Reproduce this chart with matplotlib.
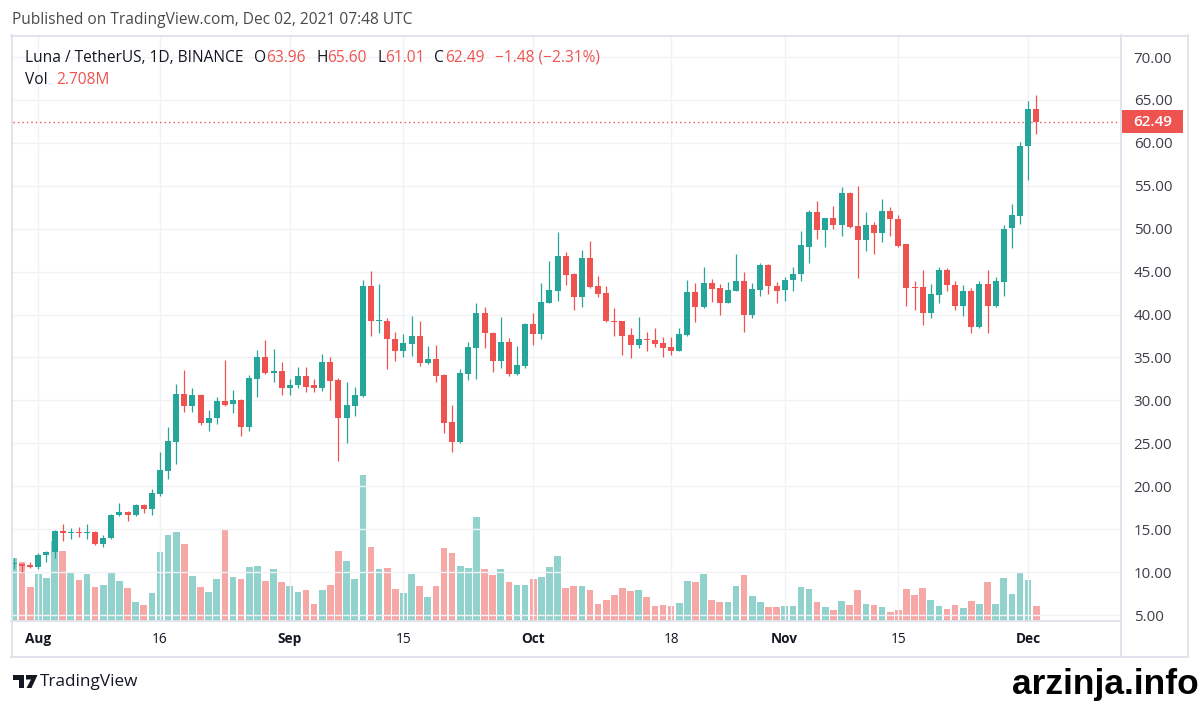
#!/usr/bin/env python3
# -*- coding: utf-8 -*-

import numpy as np
import pandas as pd
import matplotlib
matplotlib.use("Agg")
import matplotlib.pyplot as plt
import matplotlib.transforms as mtransforms
from matplotlib.patches import Rectangle, Polygon
from matplotlib.lines import Line2D

# daily candles LUNA/USDT, 2021-07-29 .. 2021-12-02
dates = pd.date_range("2021-07-29", "2021-12-02", freq="D")

opens = [10.9, 11.0, 10.8, 10.6, 12.0, 12.3, 14.8, 14.5, 14.6, 14.5,
         14.7, 13.3, 14.0, 16.6, 17.0, 16.6, 17.8, 17.3, 19.1, 21.8,
         25.2, 30.7, 29.4, 30.6, 27.4, 27.9, 29.9, 29.6, 30.1, 26.9,
         32.5, 35.0, 33.2, 33.4, 31.5, 31.8, 32.9, 31.8, 31.4, 34.5,
         32.4, 27.9, 29.4, 30.5, 43.3, 39.2, 39.3, 37.1, 35.7, 36.6,
         37.5, 34.4, 34.8, 33.0, 27.5, 25.1, 33.1, 36.1, 40.2, 37.8,
         34.6, 36.8, 33.1, 34.0, 38.9, 37.7, 41.4, 42.7, 46.8, 44.7,
         42.0, 46.6, 43.3, 42.5, 39.3, 39.2, 37.6, 36.5, 37.2, 37.0,
         36.7, 36.2, 35.8, 37.6, 42.6, 40.9, 43.7, 43.1, 41.4, 42.8,
         43.9, 39.9, 42.9, 45.8, 43.3, 42.9, 44.0, 44.7, 47.9, 51.9,
         49.9, 51.2, 50.4, 54.2, 50.3, 48.7, 50.4, 49.5, 52.1, 51.1,
         48.2, 43.2, 43.2, 40.2, 42.3, 45.2, 43.5, 41.0, 42.7, 38.5,
         43.6, 41.0, 43.8, 50.1, 51.5, 59.6, 63.96]
highs = [11.6, 11.1, 11.2, 12.2, 12.5, 14.9, 15.6, 15.1, 15.2, 15.6,
         14.8, 14.3, 16.8, 18.0, 17.1, 17.9, 17.9, 19.7, 24.0, 26.9,
         31.9, 33.5, 31.5, 30.7, 28.9, 30.4, 34.7, 31.2, 30.2, 33.0,
         35.9, 37.0, 36.0, 34.5, 32.5, 33.9, 33.9, 32.5, 35.4, 35.0,
         32.6, 32.1, 31.6, 44.0, 45.1, 43.6, 39.6, 38.0, 37.7, 39.8,
         39.2, 36.3, 36.4, 33.1, 29.5, 33.7, 36.8, 41.3, 40.9, 38.0,
         39.7, 37.3, 36.3, 39.0, 40.2, 43.7, 46.2, 49.6, 47.3, 44.9,
         47.5, 48.6, 44.5, 43.3, 40.8, 39.2, 38.4, 39.7, 38.0, 38.4,
         37.4, 37.4, 38.4, 44.0, 43.7, 45.5, 44.1, 43.6, 43.8, 47.1,
         45.0, 43.7, 46.0, 45.9, 43.8, 44.4, 45.5, 49.7, 52.2, 53.2,
         51.3, 52.6, 54.9, 54.3, 55.0, 51.9, 50.8, 53.5, 52.5, 51.6,
         48.2, 43.9, 45.2, 43.6, 45.5, 45.4, 43.9, 43.4, 43.1, 43.9,
         45.2, 44.4, 50.4, 52.9, 60.1, 64.9, 65.60]
lows = [10.4, 10.0, 10.5, 10.4, 11.2, 11.7, 13.6, 13.8, 14.1, 13.9,
        13.2, 12.9, 13.9, 16.5, 15.9, 16.5, 16.9, 16.6, 18.9, 20.9,
        22.6, 28.7, 28.6, 27.1, 26.4, 27.3, 29.4, 28.5, 25.9, 26.4,
        30.4, 33.1, 32.1, 30.6, 30.6, 31.4, 31.0, 31.0, 31.1, 30.1,
        23.0, 25.0, 28.2, 30.4, 37.5, 37.9, 33.7, 34.6, 35.0, 35.2,
        34.0, 34.2, 32.1, 26.2, 24.0, 25.0, 32.4, 32.5, 36.1, 33.3,
        33.8, 32.9, 33.0, 33.8, 36.5, 37.2, 41.3, 41.6, 43.5, 40.5,
        40.9, 43.1, 42.1, 39.1, 37.5, 35.3, 34.9, 36.1, 35.7, 36.2,
        35.0, 35.3, 35.7, 37.5, 39.1, 40.8, 41.5, 40.0, 41.3, 42.7,
        38.0, 39.6, 42.2, 42.4, 41.3, 41.6, 42.8, 43.9, 46.0, 48.8,
        47.9, 50.0, 49.1, 50.1, 44.3, 47.4, 47.1, 48.4, 49.2, 47.9,
        41.0, 40.5, 38.8, 39.6, 41.4, 42.7, 40.5, 39.8, 37.9, 38.4,
        37.9, 40.9, 42.2, 47.8, 50.6, 55.7, 61.01]
closes = [11.1, 10.7, 10.6, 12.0, 12.4, 14.8, 14.5, 14.6, 14.5, 14.6,
          13.3, 14.0, 16.6, 17.0, 16.6, 17.8, 17.3, 19.2, 21.9, 25.3,
          30.7, 29.4, 30.6, 27.4, 28.0, 29.9, 29.5, 30.1, 26.9, 32.6,
          35.0, 33.2, 33.4, 31.5, 31.8, 32.9, 31.6, 31.4, 34.5, 32.3,
          27.9, 29.5, 30.6, 43.3, 39.2, 39.3, 37.1, 35.7, 36.7, 37.5,
          34.4, 34.8, 32.9, 27.4, 25.1, 33.2, 36.2, 40.2, 37.8, 34.6,
          36.8, 33.1, 34.1, 38.9, 37.7, 41.5, 42.9, 46.8, 44.6, 42.0,
          46.6, 43.2, 42.4, 39.2, 39.1, 37.5, 36.5, 37.1, 37.0, 36.6,
          36.1, 35.8, 37.7, 42.6, 40.9, 43.7, 43.0, 41.4, 42.9, 43.9,
          39.9, 43.0, 45.8, 43.3, 42.8, 44.0, 44.7, 48.1, 51.9, 49.9,
          51.2, 50.4, 54.2, 50.2, 48.7, 50.4, 49.5, 52.1, 51.1, 48.0,
          43.1, 43.1, 40.2, 42.4, 45.2, 43.5, 41.0, 42.7, 38.5, 43.6,
          41.0, 43.9, 50.0, 51.6, 59.6, 63.97, 62.49]
# volume in millions
vols = [11.3, 10.6, 6.1, 8.5, 7.7, 14.4, 12.6, 8.8, 7.4, 8.5,
        6.1, 6.5, 8.6, 7.2, 5.9, 3.4, 2.9, 5.0, 12.4, 15.5,
        16.0, 13.9, 8.1, 6.1, 5.2, 7.6, 16.4, 7.9, 7.6, 9.7,
        9.9, 7.2, 9.4, 7.0, 6.3, 5.2, 5.6, 3.1, 5.6, 6.5,
        12.6, 10.8, 7.6, 26.3, 13.3, 9.4, 9.5, 5.8, 5.0, 8.5,
        6.3, 4.3, 6.3, 13.1, 12.2, 9.9, 9.5, 18.7, 9.4, 8.3,
        9.4, 7.0, 6.5, 6.5, 7.6, 7.9, 9.7, 11.7, 5.9, 6.3,
        6.3, 5.6, 3.1, 3.8, 4.7, 5.9, 5.4, 5.6, 4.3, 2.7,
        2.9, 2.7, 3.2, 7.2, 7.0, 8.5, 3.8, 3.4, 3.4, 6.3,
        8.3, 4.5, 3.4, 2.5, 2.5, 2.7, 2.7, 6.1, 5.8, 3.4,
        2.5, 2.0, 3.6, 2.9, 5.6, 3.1, 2.9, 2.5, 1.6, 2.0,
        5.8, 4.7, 5.9, 3.8, 2.7, 2.2, 2.9, 2.3, 3.6, 3.1,
        7.0, 3.1, 7.7, 4.9, 8.6, 7.4, 2.708]

tick_dates = ["2021-08-01", "2021-08-16", "2021-09-01", "2021-09-15", "2021-10-01",
              "2021-10-18", "2021-11-01", "2021-11-15", "2021-12-01"]
tick_labels = ["Aug", "16", "Sep", "15", "Oct", "18", "Nov", "15", "Dec"]
price_ticks = [5, 10, 15, 20, 25, 30, 35, 40, 45, 50, 55, 60, 65, 70]

GREEN = "#26a69a"
RED = "#ef5350"
TXT = "#131722"
GRID = "#f0f2f6"
BORDER = "#e0e3eb"

W, H = 1201, 704
plt.rcParams["font.family"] = ["Open Sans", "DejaVu Sans"]


def fx(x):
    return x / W


def fy(y):
    return 1 - y / H


def main():
    fig = plt.figure(figsize=(W / 100, H / 100), dpi=100)
    fig.patch.set_facecolor("white")

    # plot area in pixels
    left, right, top, bottom = 13, 1120.6, 36, 620.7
    rect = [fx(left), fy(bottom), (right - left) / W, (bottom - top) / H]

    ax_v = fig.add_axes(rect)
    ax = fig.add_axes(rect)
    ax.patch.set_visible(False)

    x = np.arange(len(dates))
    o = np.array(opens)
    c = np.array(closes)
    hi = np.array(highs)
    lo = np.array(lows)
    v = np.array(vols)
    up = c >= o
    col = np.where(up, GREEN, RED)
    vcol = np.where(up, "#26a69a80", "#ef535080")

    # volume underneath
    ax_v.bar(x, v, width=0.82, color=vcol, linewidth=0)
    ax_v.set_ylim(0, 105.5)
    ax_v.set_xlim(-0.12, 136.4)
    ax_v.axis("off")

    # grid
    tick_pos = dates.get_indexer(pd.to_datetime(tick_dates))
    for p in price_ticks:
        ax.axhline(p, color=GRID, lw=1, zorder=0)
    for t in tick_pos:
        ax.axvline(t, color=GRID, lw=1, zorder=0)

    # candles
    ax.vlines(x, lo, hi, colors=col, linewidth=0.9, zorder=2)
    body_bot = np.minimum(o, c)
    body_h = np.maximum(np.abs(c - o), 0.14)
    ax.bar(x, body_h, bottom=body_bot, width=0.74, color=col, linewidth=0, zorder=3)

    # last price line
    ax.axhline(c[-1], color=RED, lw=1, linestyle=(0, (1, 2.2)), zorder=1)

    ax.set_xlim(-0.12, 136.4)
    ax.set_ylim(4.34, 72.45)
    for s in ax.spines.values():
        s.set_visible(False)

    ax.yaxis.tick_right()
    ax.set_yticks(price_ticks)
    ax.set_yticklabels([f"{p:.2f}" for p in price_ticks])
    ax.tick_params(axis="y", length=0, pad=9.4, labelsize=10.9, labelcolor="#3b3e46")
    ax.set_xticks(tick_pos)
    ax.set_xticklabels(tick_labels)
    ax.tick_params(axis="x", length=0, pad=8.2, labelsize=9.8, labelcolor=TXT)
    for lab in ax.get_xticklabels():
        if lab.get_text().isalpha():
            lab.set_fontweight("bold")

    # last price tag on the price scale
    blend = mtransforms.blended_transform_factory(ax.transAxes, ax.transData)
    axw = right - left
    half = 11.3 / 8.585
    ax.add_patch(Rectangle((1.0, c[-1] - half), (1183 - right) / axw, 2 * half,
                           transform=blend, facecolor=RED, edgecolor="none",
                           clip_on=False, zorder=5))
    ax.text((1153 - left) / axw, c[-1], f"{c[-1]:.2f}", transform=blend,
            ha="center", va="center", color="white", fontsize=11,
            fontweight="semibold", clip_on=False, zorder=6)

    # frame lines
    for (x0, y0, x1, y1) in [(11, 35.5, 1188, 35.5), (11, 657, 1188, 657),
                             (11.5, 35, 11.5, 657), (1187.5, 35, 1187.5, 657),
                             (1121, 35, 1121, 657), (11, 621, 1121, 621)]:
        fig.add_artist(Line2D([fx(x0), fx(x1)], [fy(y0), fy(y1)], color=BORDER, lw=1.4))

    # header texts
    fs = 11.2
    fig.text(fx(12), fy(20.5), "Published on TradingView.com, Dec 02, 2021 07:48 UTC",
             color="#4a4a4a", fontsize=fs, va="center", ha="left")
    chg = c[-1] - c[-2]
    pct = chg / c[-2] * 100
    parts = [("Luna / TetherUS, 1D, BINANCE", 24.6, TXT),
             ("O", 254, TXT), (f"{o[-1]:.2f}", 266, RED),
             ("H", 316, TXT), (f"{hi[-1]:.2f}", 327, RED),
             ("L", 377.6, TXT), (f"{lo[-1]:.2f}", 385, RED),
             ("C", 434, TXT), (f"{c[-1]:.2f}", 445, RED),
             (f"\u2212{abs(chg):.2f} (\u2212{abs(pct):.2f}%)", 495, RED)]
    for s, px, cc in parts:
        fig.text(fx(px), fy(57.5), s, color=cc, fontsize=fs, va="center", ha="left")
    fig.text(fx(24.6), fy(80), "Vol", color=TXT, fontsize=fs, va="center", ha="left")
    fig.text(fx(56), fy(80), f"{v[-1]:.3f}M", color=RED, fontsize=fs, va="center", ha="left")

    # TradingView logo
    fig.add_artist(Polygon([(fx(13), fy(675)), (fx(24), fy(675)), (fx(24), fy(688)),
                            (fx(19), fy(688)), (fx(19), fy(679.5)), (fx(13), fy(679.5))],
                           closed=True, transform=fig.transFigure, facecolor=TXT, edgecolor="none"))
    fig.add_artist(Polygon([(fx(26), fy(675)), (fx(37.5), fy(675)), (fx(31.5), fy(688)),
                            (fx(26.5), fy(688)), (fx(31), fy(679.5)), (fx(26), fy(679.5))],
                           closed=True, transform=fig.transFigure, facecolor=TXT, edgecolor="none"))
    fig.text(fx(40), fy(681.5), "TradingView", color=TXT, fontsize=12.3, va="center", ha="left")

    # watermark
    fig.text(fx(1198.5), fy(694), "arzinja.info", color="black", fontsize=25.5,
             fontweight="bold", family=["Liberation Sans", "DejaVu Sans"],
             ha="right", va="baseline")

    fig.savefig("out.png", dpi=100)
    plt.close(fig)


if __name__ == "__main__":
    main()
